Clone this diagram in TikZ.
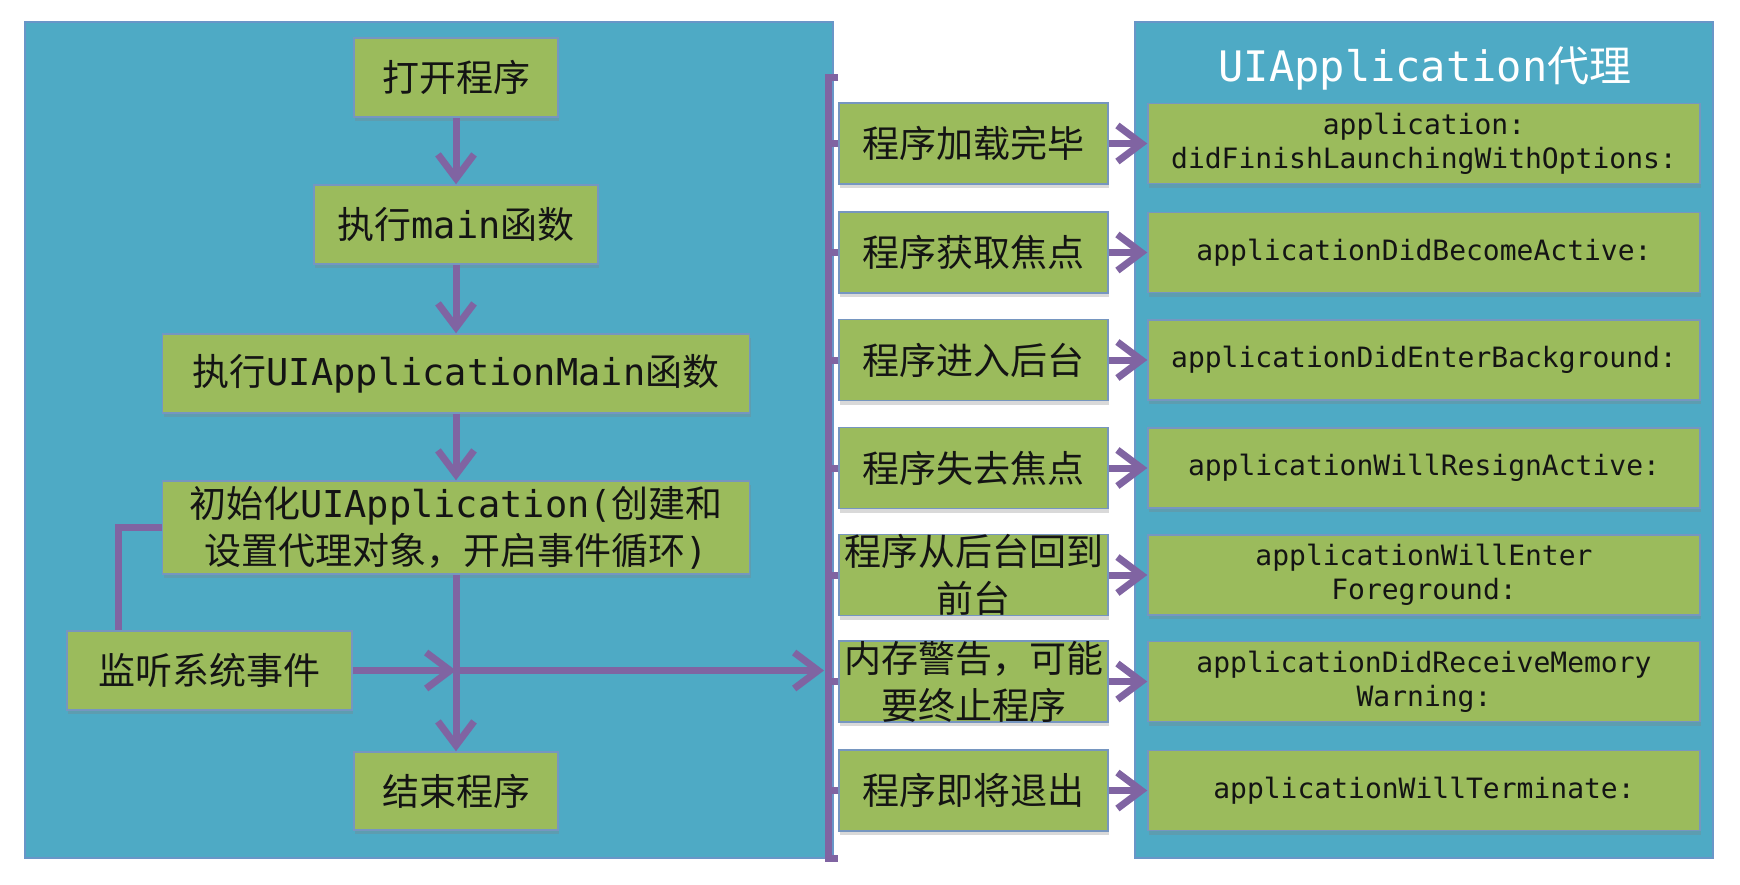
\documentclass[tikz,border=0pt]{standalone}
\usepackage{fontspec}
\setmainfont{Noto Sans CJK SC}
\setmonofont{DejaVu Sans Mono}
\usetikzlibrary{arrows.meta,shadows}
\definecolor{panelblue}{RGB}{78,170,197}
\definecolor{paneledge}{RGB}{105,150,200}
\definecolor{boxgreen}{RGB}{155,187,92}
\definecolor{boxedge}{RGB}{118,150,192}
\definecolor{arrowpurple}{RGB}{128,100,162}
\newcommand{\lt}[1]{{\ttfamily #1}}
\begin{document}
\begin{tikzpicture}[x=1pt,y=-1pt,
  panel/.style={draw=paneledge, line width=1.5pt, fill=panelblue},
  flowbox/.style={draw=boxedge, line width=1.5pt, fill=boxgreen, inner sep=0pt,
    align=center, text=black!92, font=\fontsize{37}{47}\selectfont,
    drop shadow={shadow xshift=1pt, shadow yshift=-4pt, opacity=0.3}},
  evbox/.style={flowbox, minimum width=269pt, minimum height=81pt},
  cbbox/.style={flowbox, minimum width=552pt, minimum height=80pt,
    font=\ttfamily\fontsize{28}{34}\selectfont},
  link/.style={draw=arrowpurple, line width=7pt},
  arrowlink/.style={link, -{Straight Barb[length=24pt,width=36pt]}},
]
\useasboundingbox (0,0) rectangle (1740,884);
% panels
\path[panel] (25,22) rectangle (833,858);
\path[panel] (1135,22) rectangle (1713,858);
\node[text=white, font=\fontsize{42}{50}\selectfont, inner sep=0pt] (title) at (1425,68) {\lt{UIApplication}代理};

% bracket
\coordinate (brT) at (828,77);
\coordinate (brB) at (828,858);

% left flow
\node[flowbox, minimum width=204pt, minimum height=79pt] (b1) at (456,77.5) {打开程序};
\node[flowbox, minimum width=284pt, minimum height=79pt] (b2) at (456,224.5) {执行\lt{main}函数};
\node[flowbox, minimum width=587pt, minimum height=79pt] (b3) at (456,373.5) {执行\lt{UIApplicationMain}函数};
\node[flowbox, minimum width=587pt, minimum height=93pt] (b4) at (456,527.5) {初始化\lt{UIApplication(}创建和\\设置代理对象，开启事件循环\lt{)}};
\node[flowbox, minimum width=285pt, minimum height=79pt] (b5) at (209.5,670.5) {监听系统事件};
\node[flowbox, minimum width=204pt, minimum height=78pt] (b6) at (456,791) {结束程序};

% events
\node[evbox] (s1) at (973.5,143.5) {程序加载完毕};
\node[evbox] (s2) at (973.5,252.5) {程序获取焦点};
\node[evbox] (s3) at (973.5,360) {程序进入后台};
\node[evbox] (s4) at (973.5,468) {程序失去焦点};
\node[evbox] (s5) at (973.5,575) {程序从后台回到\\前台};
\node[evbox] (s6) at (973.5,681.5) {内存警告，可能\\要终止程序};
\node[evbox] (s7) at (973.5,790.5) {程序即将退出};

% callbacks
\node[cbbox] (r1) at (1424,143.5) {application:\\didFinishLaunchingWithOptions:};
\node[cbbox] (r2) at (1424,252.5) {applicationDidBecomeActive:};
\node[cbbox] (r3) at (1424,360) {applicationDidEnterBackground:};
\node[cbbox] (r4) at (1424,468) {applicationWillResignActive:};
\node[cbbox] (r5) at (1424,575) {applicationWillEnter\\Foreground:};
\node[cbbox] (r6) at (1424,681.5) {applicationDidReceiveMemory\\Warning:};
\node[cbbox] (r7) at (1424,790.5) {applicationWillTerminate:};

% bracket drawing
\draw[link] (brT -| s1.west) -- (brT) -- (brB) -- (brB -| s1.west);
\foreach \i in {1,...,7} {
  \draw[link] (s\i.west) -- (s\i.west -| brT);
  \draw[arrowlink] (s\i) -- (r\i);
}

% flow connectors
\draw[arrowlink] (b1) -- (b2);
\draw[arrowlink] (b2) -- (b3);
\draw[arrowlink] (b3) -- (b4);
\draw[arrowlink] (b4) -- (b6);
\coordinate (j) at (b4.south |- b5.east);
\coordinate (cl) at (118,0);
\draw[link] (b4.west) -| (cl |- b5.north);
\draw[arrowlink] (b5.east) -- (j);
\draw[arrowlink, shorten >=4pt] (j) -- (j -| brT);
\end{tikzpicture}
\end{document}
